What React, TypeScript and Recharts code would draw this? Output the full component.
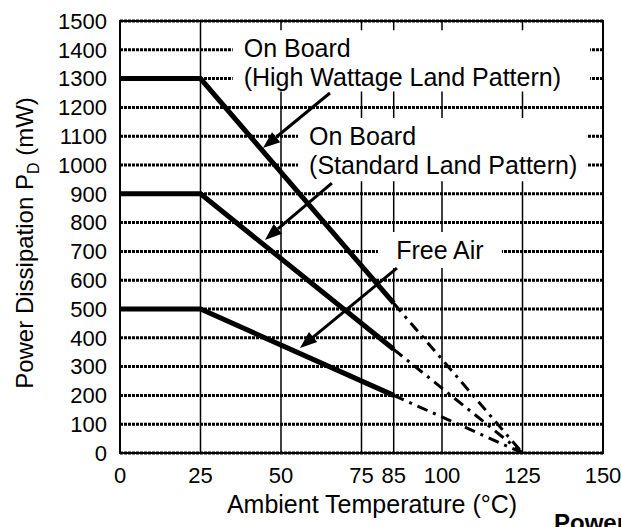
import {
  LineChart,
  Line,
  XAxis,
  YAxis,
  CartesianGrid,
  ReferenceArea,
  ReferenceLine,
} from "recharts";

const FONT = "'Liberation Sans', Arial, Helvetica, sans-serif";

const xTicks = [0, 25, 50, 75, 85, 100, 125, 150];
const yTicks = [
  0, 100, 200, 300, 400, 500, 600, 700, 800, 900, 1000, 1100, 1200, 1300, 1400, 1500,
];

// derating curves (solid part up to 85 °C)
const solidTemps = [0, 25, 85];
const highWattage = [1300, 1300, 520];
const standardLand = [900, 900, 360];
const freeAir = [500, 500, 200];

// extrapolated part (dash-dot) down to 125 °C
const extTemps = [85, 125];
const highWattageExt = [520, 0];
const standardLandExt = [360, 0];
const freeAirExt = [200, 0];

const toRows = (temps: number[], vals: number[]) =>
  temps.map((t, i) => ({ t, p: vals[i] }));

// annotation text
const labelTexts = [
  ["On Board", "(High Wattage Land Pattern)"],
  ["On Board", "(Standard Land Pattern)"],
  ["Free Air"],
];
// white boxes behind the text, in data units [x1, x2, y1, y2]
const labelBoxes = [
  [35, 146, 1255, 1468],
  [55.3, 145, 944, 1163],
  [80.1, 118.6, 642, 767],
];
// arrows [fromT, fromP, toT, toP]
const arrows = [
  [65.2, 1250, 44.4, 1059],
  [65.8, 937, 45, 740],
  [86, 642, 55.9, 365],
];

function Arrow(props: any) {
  const { x1, y1, x2, y2 } = props;
  const ang = Math.atan2(y2 - y1, x2 - x1);
  const len = 17;
  const half = 6.5;
  const bx = x2 - len * Math.cos(ang);
  const by = y2 - len * Math.sin(ang);
  const px = -Math.sin(ang) * half;
  const py = Math.cos(ang) * half;
  return (
    <g>
      <line x1={x1} y1={y1} x2={bx} y2={by} stroke="#000" strokeWidth={3} />
      <polygon
        points={`${x2},${y2} ${bx + px},${by + py} ${bx - px},${by - py}`}
        fill="#000"
      />
    </g>
  );
}

function boxLabel(lines: string[], center: boolean) {
  return (props: any) => {
    const vb = props.viewBox || {};
    const x = center ? vb.x + vb.width / 2 : vb.x + 11;
    return (
      <text
        fontFamily={FONT}
        fontSize={25}
        fill="#000"
        textAnchor={center ? "middle" : "start"}
      >
        {lines.map((l, i) => (
          <tspan key={i} x={x} y={vb.y + 27 + i * 28.5}>
            {l}
          </tspan>
        ))}
      </text>
    );
  };
}

const yTitle = () => (
  <text
    x={33}
    y={243}
    transform="rotate(-90, 33, 243)"
    textAnchor="middle"
    fontFamily={FONT}
    fontSize={24}
    fill="#000"
  >
    Power Dissipation P
    <tspan fontSize={16} dy={6}>
      D
    </tspan>
    <tspan dy={-6}> (mW)</tspan>
  </text>
);

const xTitle = () => (
  <text
    x={372}
    y={513}
    textAnchor="middle"
    fontFamily={FONT}
    fontSize={25}
    fill="#000"
  >
    Ambient Temperature (°C)
  </text>
);

export default function App() {
  const tickStyle = { fill: "#000", fontSize: 22, fontFamily: FONT };
  return (
    <div
      style={{
        position: "absolute",
        left: 0,
        top: 0,
        width: 621,
        height: 527,
        overflow: "hidden",
        background: "#fff",
      }}
    >
      <LineChart
        width={621}
        height={527}
        margin={{ top: 21, right: 18, left: 0, bottom: 0 }}
      >
        <CartesianGrid
          vertical={false}
          stroke="#000"
          strokeWidth={3}
          strokeDasharray="3 1"
        />
        <CartesianGrid horizontal={false} stroke="#000" strokeWidth={1.5} />
        <XAxis
          dataKey="t"
          type="number"
          domain={[0, 150]}
          ticks={xTicks}
          interval={0}
          tickLine={false}
          tickMargin={8}
          axisLine={{ stroke: "#000", strokeWidth: 2 }}
          tick={tickStyle}
          height={74}
          label={xTitle}
        />
        <YAxis
          type="number"
          domain={[0, 1500]}
          ticks={yTicks}
          interval={0}
          tickLine={false}
          tickMargin={7}
          axisLine={{ stroke: "#000", strokeWidth: 2 }}
          tick={tickStyle}
          width={120}
          label={yTitle}
        />
        {labelBoxes.map((b, i) => (
          <ReferenceArea
            key={"box" + i}
            x1={b[0]}
            x2={b[1]}
            y1={b[2]}
            y2={b[3]}
            fill="#fff"
            fillOpacity={1}
            stroke="none"
            label={boxLabel(labelTexts[i], i === 2)}
          />
        ))}
        <ReferenceArea
          x1={0}
          x2={150}
          y1={0}
          y2={1500}
          fill="none"
          stroke="#000"
          strokeWidth={2}
        />
        {arrows.map((a, i) => (
          <ReferenceLine
            key={"arr" + i}
            segment={[
              { x: a[0], y: a[1] },
              { x: a[2], y: a[3] },
            ]}
            shape={Arrow}
          />
        ))}
        <Line
          data={toRows(solidTemps, highWattage)}
          dataKey="p"
          stroke="#000"
          strokeWidth={5}
          dot={false}
          isAnimationActive={false}
        />
        <Line
          data={toRows(solidTemps, standardLand)}
          dataKey="p"
          stroke="#000"
          strokeWidth={5}
          dot={false}
          isAnimationActive={false}
        />
        <Line
          data={toRows(solidTemps, freeAir)}
          dataKey="p"
          stroke="#000"
          strokeWidth={5}
          dot={false}
          isAnimationActive={false}
        />
        <Line
          data={toRows(extTemps, highWattageExt)}
          dataKey="p"
          stroke="#000"
          strokeWidth={3}
          strokeDasharray="11 6 3 6"
          dot={false}
          isAnimationActive={false}
        />
        <Line
          data={toRows(extTemps, standardLandExt)}
          dataKey="p"
          stroke="#000"
          strokeWidth={3}
          strokeDasharray="11 6 3 6"
          dot={false}
          isAnimationActive={false}
        />
        <Line
          data={toRows(extTemps, freeAirExt)}
          dataKey="p"
          stroke="#000"
          strokeWidth={3}
          strokeDasharray="11 6 3 6"
          dot={false}
          isAnimationActive={false}
        />
      </LineChart>
      <div
        style={{
          position: "absolute",
          left: 554,
          top: 509,
          fontFamily: FONT,
          fontWeight: "bold",
          fontSize: 24,
          whiteSpace: "nowrap",
          lineHeight: "28px",
        }}
      >
        Power Dissipation
      </div>
    </div>
  );
}
